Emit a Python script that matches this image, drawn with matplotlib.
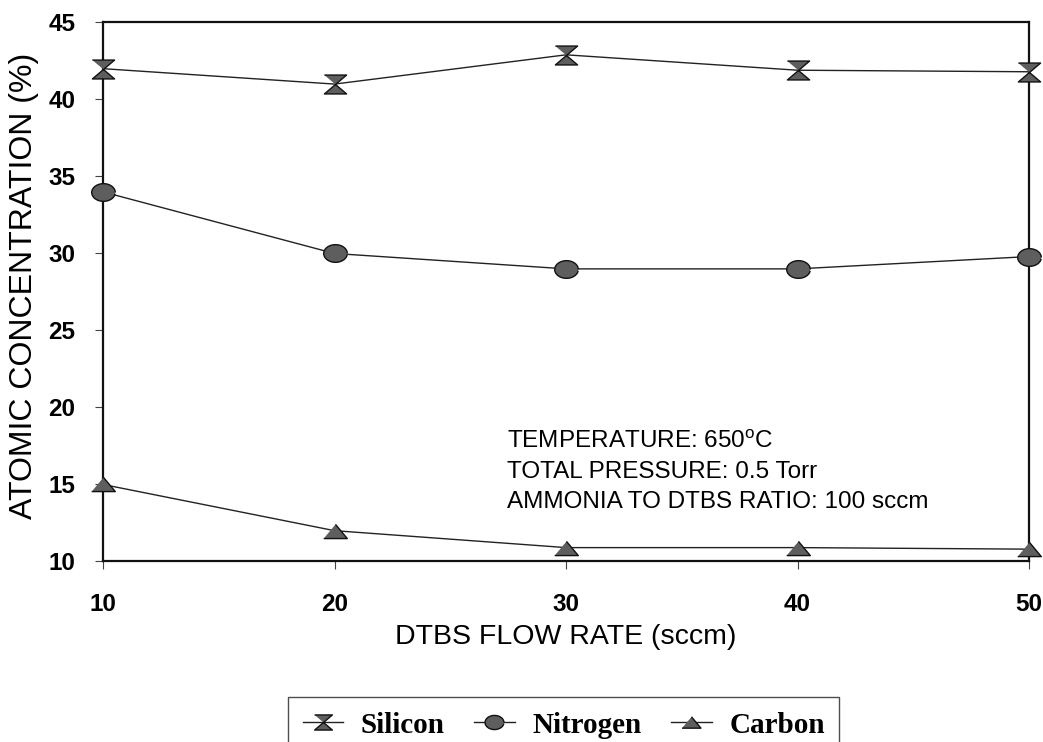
import matplotlib
matplotlib.use("Agg")
import numpy as np
import matplotlib.pyplot as plt

plt.rcParams['font.family'] = ['Liberation Sans', 'DejaVu Sans']
plt.rcParams['mathtext.fontset'] = 'custom'
plt.rcParams['mathtext.rm'] = 'Liberation Sans'

# DTBS flow rate (sccm) and atomic concentration (%)
flow_rate = [10, 20, 30, 40, 50]
silicon = [42.0, 41.0, 42.9, 41.9, 41.8]
nitrogen = [34.0, 30.0, 29.0, 29.0, 29.8]
carbon = [15.0, 12.0, 10.9, 10.9, 10.8]

x_ticks = [10, 20, 30, 40, 50]
y_ticks = [10, 15, 20, 25, 30, 35, 40, 45]

notes = ["TEMPERATURE: 650$^{\\mathrm{o}}$C",
         "TOTAL PRESSURE: 0.5 Torr",
         "AMMONIA TO DTBS RATIO: 100 sccm"]

# marker shapes: hourglass, flat ellipse, flat triangle
hourglass = [(-1, 0.85), (1, 0.85), (0, 0), (1, -0.85), (-1, -0.85), (0, 0)]
t = np.linspace(0, 2 * np.pi, 40, endpoint=False)
ellipse = list(zip(np.cos(t), 0.75 * np.sin(t)))
flat_tri = [(-1, -0.6), (1, -0.6), (0, 0.6)]

fig = plt.figure(figsize=(10.43, 7.42), dpi=100)
ax = fig.add_axes([0.0988, 0.2433, 0.8878, 0.7264])

line_kw = dict(color='#222222', linewidth=1.0, markerfacecolor='#5e5e5e',
               markeredgecolor='#111111', markeredgewidth=1.0, clip_on=False, zorder=3)
ax.plot(flow_rate, silicon, marker=hourglass, markersize=16, label='Silicon', **line_kw)
ax.plot(flow_rate, nitrogen, marker=ellipse, markersize=17, label='Nitrogen', **line_kw)
ax.plot(flow_rate, carbon, marker=flat_tri, markersize=17, label='Carbon', **line_kw)

ax.set_xlim(10, 50)
ax.set_ylim(10, 45)
ax.set_xticks(x_ticks)
ax.set_yticks(y_ticks)
ax.tick_params(axis='both', direction='out', length=6, width=0.8, color='#444444',
               labelsize=17.5)
ax.tick_params(axis='x', pad=17)
ax.tick_params(axis='y', pad=14)
for lbl in ax.get_xticklabels() + ax.get_yticklabels():
    lbl.set_fontweight('bold')

for sp in ax.spines.values():
    sp.set_linewidth(1.6)
    sp.set_color('#111111')

ax.set_xlabel('DTBS FLOW RATE (sccm)', fontsize=20.5, va='center')
ax.xaxis.set_label_coords(0.5, -0.140)
ax.set_ylabel('ATOMIC CONCENTRATION (%)', fontsize=23, va='center', ha='center')
ax.yaxis.set_label_coords(-0.085, 0.511)

for i, line in enumerate(notes):
    ax.text(0.436, 0.223 - i * 0.0566, line, transform=ax.transAxes, fontsize=17.5,
            ha='left', va='center')

leg = fig.legend(loc='upper left', bbox_to_anchor=(288 / 1043, 1 - 697 / 742),
                 ncol=3, frameon=True, fancybox=False, borderaxespad=0,
                 handlelength=1.4, handletextpad=0.6, columnspacing=1.0,
                 borderpad=0.5, markerscale=0.8,
                 prop={'family': 'Liberation Serif', 'weight': 'bold', 'size': 21})
leg.get_frame().set_edgecolor('#222222')
leg.get_frame().set_linewidth(1.0)

fig.savefig('out.png', dpi=100)
